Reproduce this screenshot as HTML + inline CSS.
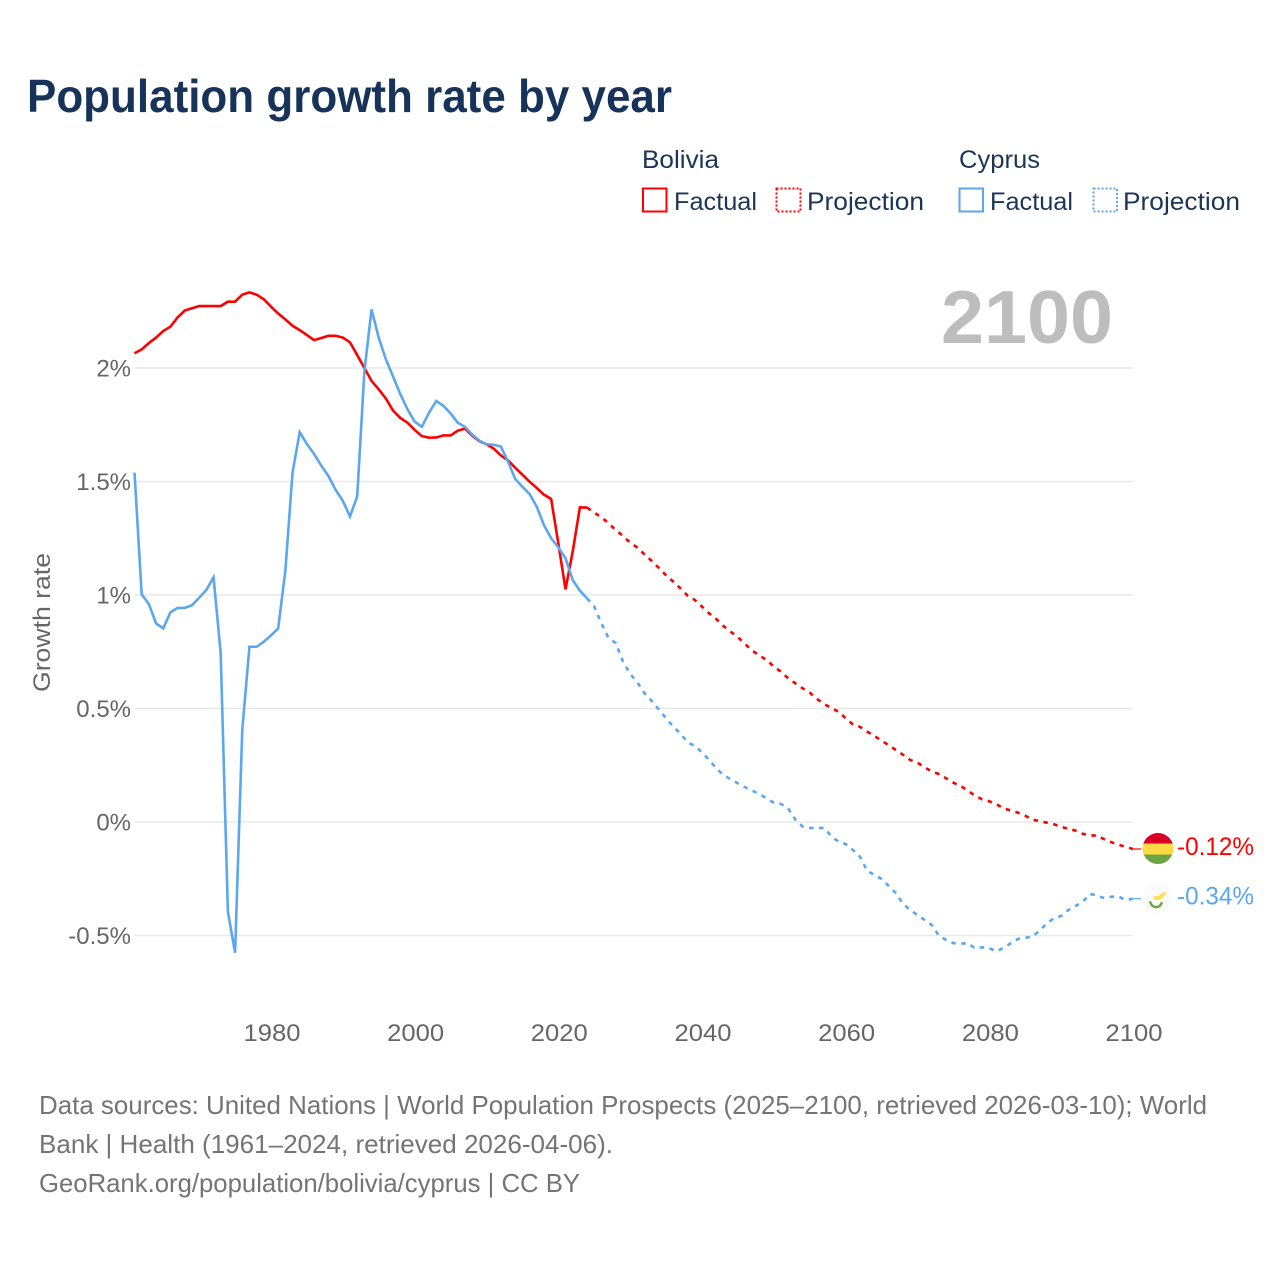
<!DOCTYPE html>
<html lang="en">
<head>
<meta charset="utf-8">
<title>Population growth rate by year</title>
<style>
  html, body { margin: 0; padding: 0; background: #ffffff; }
  svg { display: block; font-family: "Liberation Sans", sans-serif; }
</style>
</head>
<body>
<svg id="chart" width="1280" height="1280" viewBox="0 0 1280 1280" xmlns="http://www.w3.org/2000/svg">
  <defs>
    <clipPath id="flag-clip-bolivia"><circle cx="0" cy="0" r="15.5"></circle></clipPath>
  </defs>
  <rect x="0" y="0" width="1280" height="1280" fill="#ffffff"></rect>

  <text x="27" y="112" font-size="46" font-weight="700" fill="#17335a" textLength="645" lengthAdjust="spacingAndGlyphs">Population growth rate by year</text>

  <g font-size="25" fill="#1b3558">
    <text x="642" y="168" textLength="77" lengthAdjust="spacingAndGlyphs">Bolivia</text>
    <text x="959" y="168" textLength="81" lengthAdjust="spacingAndGlyphs">Cyprus</text>

    <g>
      <rect x="643" y="188.5" width="23.5" height="23" fill="none" stroke="#ff0000" stroke-width="2"></rect>
      <text x="674" y="210" textLength="83" lengthAdjust="spacingAndGlyphs">Factual</text>
    </g>
    <g>
      <rect x="776.5" y="188.5" width="24" height="23" fill="none" stroke="#ff0000" stroke-width="2" stroke-dasharray="2 2"></rect>
      <text x="807" y="210" textLength="117" lengthAdjust="spacingAndGlyphs">Projection</text>
    </g>
    <g>
      <rect x="959.5" y="188.5" width="23.5" height="23" fill="none" stroke="#5ca6ee" stroke-width="2"></rect>
      <text x="990" y="210" textLength="83" lengthAdjust="spacingAndGlyphs">Factual</text>
    </g>
    <g>
      <rect x="1093.5" y="188.5" width="23.5" height="23" fill="none" stroke="#5ca6ee" stroke-width="2" stroke-dasharray="2 2"></rect>
      <text x="1123" y="210" textLength="117" lengthAdjust="spacingAndGlyphs">Projection</text>
    </g>
  </g>

  <g id="grid"></g>
  <text x="941" y="343" font-size="75" font-weight="700" fill="#bdbdbd" textLength="172" lengthAdjust="spacingAndGlyphs">2100</text>
  <g id="y-ticks" font-size="24" fill="#666666" text-anchor="end"></g>
  <g id="x-ticks" font-size="24" fill="#666666" text-anchor="middle"></g>
  <text transform="translate(50,622.5) rotate(-90)" font-size="24" fill="#666666" text-anchor="middle" textLength="139" lengthAdjust="spacingAndGlyphs">Growth rate</text>

  <g id="series"></g>

  <g id="flag-bolivia" clip-path="url(#flag-clip-bolivia)">
    <rect x="-16" y="-16" width="32" height="11" fill="#d80027"></rect>
    <rect x="-16" y="-5" width="32" height="11" fill="#ffda44"></rect>
    <rect x="-16" y="6" width="32" height="11" fill="#6da544"></rect>
  </g>
  <g id="flag-cyprus">
    <circle cx="0" cy="0" r="15" fill="#fbfbfb"></circle>
    <path d="M-5,-2 L0,-2 L4,-5 L9,-7 L6,-2 L2,1 L-3,2 Z" fill="#ffda44"></path>
    <path d="M-8,3 C-7,8 -3,9 -2,9 C1,9 3,7 4,4" fill="none" stroke="#6da544" stroke-width="2.4"></path>
  </g>
  <g id="end-labels" font-size="25"></g>

  <g font-size="26" fill="#747474">
    <text x="39" y="1114" textLength="1168" lengthAdjust="spacingAndGlyphs">Data sources: United Nations | World Population Prospects (2025–2100, retrieved 2026-03-10); World</text>
    <text x="39" y="1153" textLength="574" lengthAdjust="spacingAndGlyphs">Bank | Health (1961–2024, retrieved 2026-04-06).</text>
    <text x="39" y="1192" textLength="541" lengthAdjust="spacingAndGlyphs">GeoRank.org/population/bolivia/cyprus | CC BY</text>
  </g>
</svg>

<script>
const factualYears = [1961,1962,1963,1964,1965,1966,1967,1968,1969,1970,1971,1972,1973,1974,1975,1976,1977,1978,1979,1980,1981,1982,1983,1984,1985,1986,1987,1988,1989,1990,1991,1992,1993,1994,1995,1996,1997,1998,1999,2000,2001,2002,2003,2004,2005,2006,2007,2008,2009,2010,2011,2012,2013,2014,2015,2016,2017,2018,2019,2020,2021,2022,2023,2024];
const boliviaFactual = [2.065,2.082,2.11,2.134,2.163,2.182,2.223,2.253,2.263,2.273,2.273,2.273,2.273,2.292,2.292,2.323,2.333,2.323,2.303,2.27,2.24,2.214,2.186,2.167,2.145,2.123,2.132,2.142,2.142,2.134,2.113,2.057,2.0,1.943,1.906,1.865,1.812,1.78,1.759,1.727,1.70,1.693,1.694,1.703,1.703,1.724,1.733,1.702,1.678,1.664,1.645,1.615,1.593,1.561,1.53,1.499,1.471,1.442,1.423,1.228,1.025,1.191,1.386,1.385];
const cyprusFactual = [1.539,1.003,0.96,0.875,0.853,0.924,0.943,0.943,0.955,0.988,1.022,1.078,0.743,-0.395,-0.576,0.405,0.772,0.772,0.794,0.822,0.853,1.107,1.54,1.717,1.665,1.621,1.57,1.524,1.463,1.415,1.346,1.434,1.984,2.258,2.133,2.038,1.962,1.885,1.818,1.764,1.741,1.803,1.855,1.833,1.80,1.759,1.741,1.707,1.68,1.664,1.662,1.654,1.587,1.511,1.477,1.445,1.389,1.308,1.25,1.21,1.162,1.066,1.019,0.985];

const projectionYears = [2024,2025,2026,2027,2028,2029,2030,2031,2032,2033,2034,2035,2036,2037,2038,2039,2040,2041,2042,2043,2044,2045,2046,2047,2048,2049,2050,2051,2052,2053,2054,2055,2056,2057,2058,2059,2060,2061,2062,2063,2064,2065,2066,2067,2068,2069,2070,2071,2072,2073,2074,2075,2076,2077,2078,2079,2080,2081,2082,2083,2084,2085,2086,2087,2088,2089,2090,2091,2092,2093,2094,2095,2096,2097,2098,2099,2100];
const boliviaProjection = [1.385,1.363,1.342,1.316,1.286,1.26,1.231,1.209,1.179,1.15,1.119,1.087,1.059,1.029,0.997,0.978,0.949,0.919,0.894,0.863,0.838,0.814,0.784,0.755,0.733,0.714,0.684,0.662,0.633,0.611,0.589,0.57,0.542,0.52,0.502,0.486,0.457,0.43,0.419,0.398,0.379,0.358,0.338,0.317,0.296,0.273,0.261,0.241,0.222,0.211,0.192,0.173,0.159,0.138,0.116,0.10,0.091,0.078,0.06,0.05,0.041,0.028,0.01,0.004,-0.003,-0.01,-0.021,-0.03,-0.038,-0.052,-0.059,-0.06,-0.076,-0.089,-0.10,-0.11,-0.119];
const cyprusProjection = [0.985,0.949,0.875,0.81,0.788,0.707,0.652,0.615,0.567,0.533,0.496,0.457,0.42,0.39,0.351,0.335,0.307,0.273,0.236,0.207,0.188,0.17,0.153,0.138,0.123,0.104,0.085,0.079,0.06,0.01,-0.02,-0.026,-0.026,-0.026,-0.062,-0.087,-0.097,-0.123,-0.153,-0.215,-0.233,-0.251,-0.282,-0.314,-0.361,-0.388,-0.41,-0.432,-0.454,-0.502,-0.52,-0.534,-0.536,-0.534,-0.556,-0.552,-0.556,-0.57,-0.554,-0.534,-0.515,-0.51,-0.505,-0.479,-0.446,-0.424,-0.414,-0.388,-0.37,-0.351,-0.317,-0.323,-0.336,-0.329,-0.329,-0.344,-0.338];

const yTickValues = [2, 1.5, 1, 0.5, 0, -0.5];
const yTickLabels = ['2%', '1.5%', '1%', '0.5%', '0%', '-0.5%'];
const xTickValues = [1980, 2000, 2020, 2040, 2060, 2080, 2100];
const xTickLabels = ['1980', '2000', '2020', '2040', '2060', '2080', '2100'];
const endValueLabels = ['-0.12%', '-0.34%'];

const SVG_NS = 'http://www.w3.org/2000/svg';
const RED = '#ff0000';
const BLUE = '#5ca6ee';
const X_YEAR_MIN = 1961;
const X_YEAR_MAX = 2100;
const X_PX_MIN = 134.5;
const X_PX_MAX = 1133;
const Y_ZERO_PX = 822;
const Y_PX_PER_UNIT = 227;

function xScale(year) {
  return X_PX_MIN + (year - X_YEAR_MIN) * (X_PX_MAX - X_PX_MIN) / (X_YEAR_MAX - X_YEAR_MIN);
}
function yScale(value) {
  return Y_ZERO_PX - value * Y_PX_PER_UNIT;
}
function svgEl(tag, parent) {
  const el = document.createElementNS(SVG_NS, tag);
  parent.appendChild(el);
  return el;
}

const gridGroup = document.getElementById('grid');
const yTickGroup = document.getElementById('y-ticks');
yTickValues.forEach(function (value, i) {
  const line = svgEl('line', gridGroup);
  
  
  line.setAttribute('x1', X_PX_MIN);
  line.setAttribute('x2', X_PX_MAX);
  line.setAttribute('y1', yScale(value));
  line.setAttribute('y2', yScale(value));
  line.setAttribute('stroke', '#e9e9e9');
  line.setAttribute('stroke-width', '1.5');
  const label = svgEl('text', yTickGroup);
  
  
  label.setAttribute('x', 131);
  label.setAttribute('y', yScale(value) + 8.5);
  label.textContent = yTickLabels[i];
});

const xTickGroup = document.getElementById('x-ticks');
xTickValues.forEach(function (year, i) {
  const label = svgEl('text', xTickGroup);
  
  
  label.setAttribute('x', xScale(year) + 1);
  label.setAttribute('y', 1041);
  label.setAttribute('textLength', 57);
  label.setAttribute('lengthAdjust', 'spacingAndGlyphs');
  label.textContent = xTickLabels[i];
});

function pointsFor(years, values) {
  return years.map(function (year, i) {
    return xScale(year).toFixed(2) + ',' + yScale(values[i]).toFixed(2);
  }).join(' ');
}

const seriesGroup = document.getElementById('series');

const boliviaFactualLine = svgEl('polyline', seriesGroup);


boliviaFactualLine.setAttribute('points', pointsFor(factualYears, boliviaFactual));
boliviaFactualLine.setAttribute('fill', 'none');
boliviaFactualLine.setAttribute('stroke', RED);
boliviaFactualLine.setAttribute('stroke-width', '2.6');

const boliviaProjectionLine = svgEl('polyline', seriesGroup);


boliviaProjectionLine.setAttribute('points', pointsFor(projectionYears, boliviaProjection));
boliviaProjectionLine.setAttribute('fill', 'none');
boliviaProjectionLine.setAttribute('stroke', RED);
boliviaProjectionLine.setAttribute('stroke-width', '2.6');
boliviaProjectionLine.setAttribute('stroke-dasharray', '4.5 5.5');

const cyprusFactualLine = svgEl('polyline', seriesGroup);


cyprusFactualLine.setAttribute('points', pointsFor(factualYears, cyprusFactual));
cyprusFactualLine.setAttribute('fill', 'none');
cyprusFactualLine.setAttribute('stroke', BLUE);
cyprusFactualLine.setAttribute('stroke-width', '2.6');

const cyprusProjectionLine = svgEl('polyline', seriesGroup);


cyprusProjectionLine.setAttribute('points', pointsFor(projectionYears, cyprusProjection));
cyprusProjectionLine.setAttribute('fill', 'none');
cyprusProjectionLine.setAttribute('stroke', BLUE);
cyprusProjectionLine.setAttribute('stroke-width', '2.6');
cyprusProjectionLine.setAttribute('stroke-dasharray', '4.5 5.5');

const lastYear = projectionYears[projectionYears.length - 1];
const boliviaEnd = boliviaProjection[boliviaProjection.length - 1];
const cyprusEnd = cyprusProjection[cyprusProjection.length - 1];
const FLAG_X = 1158;
const LABEL_X = 1177;

const boliviaConnector = svgEl('line', seriesGroup);


boliviaConnector.setAttribute('x1', xScale(lastYear));
boliviaConnector.setAttribute('x2', xScale(lastYear) + 8);
boliviaConnector.setAttribute('y1', yScale(boliviaEnd));
boliviaConnector.setAttribute('y2', yScale(boliviaEnd));
boliviaConnector.setAttribute('stroke', RED);
boliviaConnector.setAttribute('stroke-width', '1.2');

const cyprusConnector = svgEl('line', seriesGroup);


cyprusConnector.setAttribute('x1', xScale(lastYear));
cyprusConnector.setAttribute('x2', xScale(lastYear) + 8);
cyprusConnector.setAttribute('y1', yScale(cyprusEnd));
cyprusConnector.setAttribute('y2', yScale(cyprusEnd));
cyprusConnector.setAttribute('stroke', BLUE);
cyprusConnector.setAttribute('stroke-width', '1.2');

document.getElementById('flag-bolivia').setAttribute('transform', 'translate(' + FLAG_X + ',' + (yScale(boliviaEnd) - 0.5) + ')');
document.getElementById('flag-cyprus').setAttribute('transform', 'translate(' + FLAG_X + ',' + (yScale(cyprusEnd) - 0.5) + ')');

const endLabelGroup = document.getElementById('end-labels');

const boliviaEndLabel = svgEl('text', endLabelGroup);


boliviaEndLabel.setAttribute('x', LABEL_X);
boliviaEndLabel.setAttribute('y', yScale(boliviaEnd) + 6);
boliviaEndLabel.setAttribute('fill', RED);
boliviaEndLabel.setAttribute('textLength', 77);
boliviaEndLabel.setAttribute('lengthAdjust', 'spacingAndGlyphs');
boliviaEndLabel.textContent = endValueLabels[0];

const cyprusEndLabel = svgEl('text', endLabelGroup);


cyprusEndLabel.setAttribute('x', LABEL_X);
cyprusEndLabel.setAttribute('y', yScale(cyprusEnd) + 6);
cyprusEndLabel.setAttribute('fill', BLUE);
cyprusEndLabel.setAttribute('textLength', 77);
cyprusEndLabel.setAttribute('lengthAdjust', 'spacingAndGlyphs');
cyprusEndLabel.textContent = endValueLabels[1];
</script>
</body>
</html>
